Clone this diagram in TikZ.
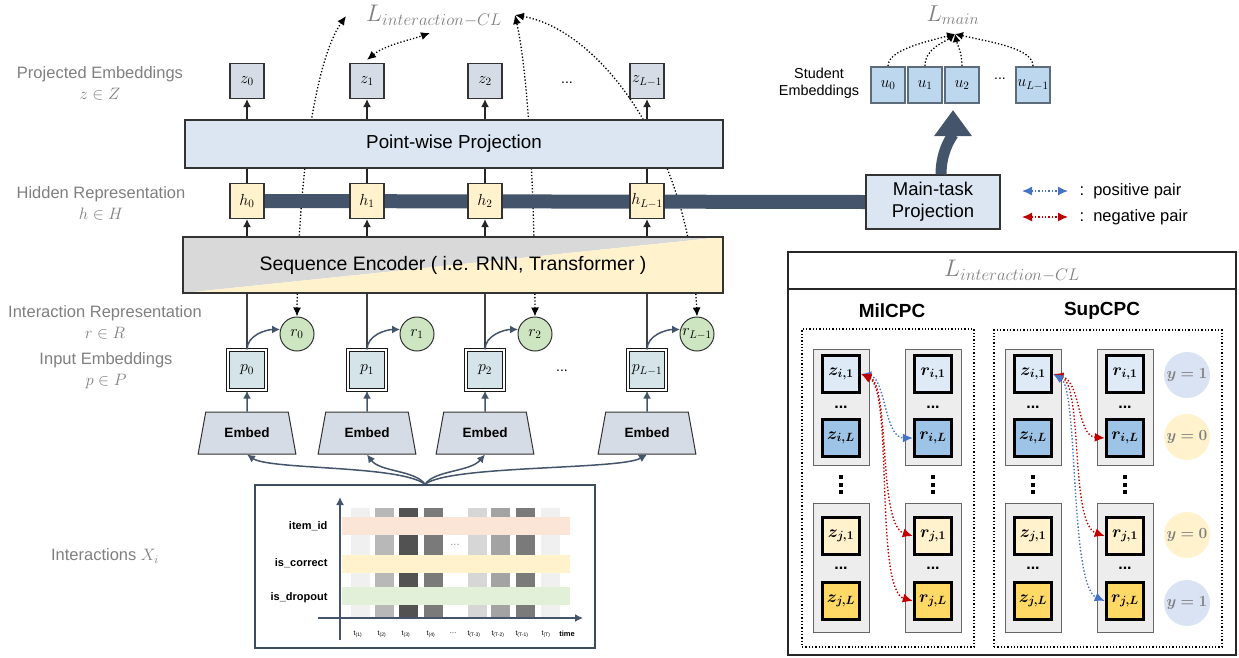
\RequirePackage{fix-cm}
\documentclass[tikz,border=0pt]{standalone}
\usepackage{bm}
\usepackage[no-math]{fontspec}
\setmainfont{Liberation Sans}
\usetikzlibrary{arrows.meta,shapes.geometric,backgrounds,positioning}
\definecolor{slate}{HTML}{44546A}
\definecolor{labgray}{HTML}{7F7F7F}
\definecolor{projfill}{HTML}{DCE6F2}
\definecolor{zfill}{HTML}{D6DCE5}
\definecolor{hfill}{HTML}{FFF2CC}
\definecolor{pfill}{HTML}{D5E4E8}
\definecolor{rfill}{HTML}{CDE5C0}
\definecolor{encgray}{HTML}{D9D9D9}
\definecolor{ufill}{HTML}{BDD7EE}
\definecolor{udraw}{HTML}{5D6B7B}
\definecolor{band1}{HTML}{FBE5D6}
\definecolor{band3}{HTML}{E2F0D9}
\definecolor{panelgray}{HTML}{EDEDED}
\definecolor{ci1}{HTML}{DEEBF7}
\definecolor{ciL}{HTML}{9DC3E6}
\definecolor{cjL}{HTML}{FFD966}
\definecolor{ycirc}{HTML}{DAE3F3}
\definecolor{negred}{HTML}{C00000}
\definecolor{posblue}{HTML}{4472C4}
\tikzset{
  lbl/.style={text=labgray, align=center, font=\fontsize{16.5}{21}\selectfont},
  cellbox/.style={draw=black!80, line width=1.2pt, minimum width=34pt, minimum height=35pt, inner sep=0pt, font=\fontsize{16}{18}\selectfont},
  zbox/.style={cellbox, fill=zfill},
  hbox/.style={cellbox, fill=hfill},
  pbox/.style={draw=black!90, double=white, double distance=1.4pt, line width=1.2pt, fill=pfill, minimum width=38pt, minimum height=40pt, inner sep=0pt, font=\fontsize{16}{18}\selectfont},
  rnode/.style={circle, draw=black!80, line width=1pt, fill=rfill, minimum size=34pt, inner sep=0pt, font=\fontsize{16}{18}\selectfont},
  embed/.style={trapezium, trapezium angle=74, trapezium stretches=true, draw=black!80, line width=1pt, fill=zfill, minimum width=98pt, minimum height=42pt, font=\fontsize{13.5}{16}\selectfont\bfseries},
  bigbox/.style={draw=black!80, line width=1.2pt, fill=projfill, inner sep=0pt},
  blk/.style={->, line width=1.2pt, black!85},
  sarr/.style={-{Latex[length=8pt,width=8pt]}, line width=1.5pt, slate},
  dots/.style={dotted, line width=1.3pt, {Latex[length=9pt,width=8pt]}-{Latex[length=9pt,width=8pt]}},
  ubox/.style={draw=udraw, line width=2pt, fill=ufill, minimum width=34pt, minimum height=36pt, inner sep=0pt, font=\fontsize{16}{18}\selectfont},
  panel/.style={draw=black!60, line width=1pt, fill=panelgray, minimum width=56pt},
  sqbox/.style={draw=black, line width=3.5pt, minimum size=37pt, inner sep=0pt, font=\fontsize{17}{19}\selectfont},
  ycirc/.style={circle, minimum size=46pt, inner sep=0pt, text=labgray, font=\fontsize{15.5}{17}\selectfont},
  pospair/.style={dotted, line width=1.4pt, posblue, {Latex[length=10pt,width=9pt]}-{Latex[length=10pt,width=9pt]}},
  negpair/.style={dotted, line width=1.4pt, negred, {Latex[length=10pt,width=9pt]}-{Latex[length=10pt,width=9pt]}},
  hdots/.style={font=\fontsize{16}{16}\selectfont\bfseries},
  rowlbl/.style={anchor=east, font=\fontsize{11}{13}\selectfont\bfseries},
  tlbl/.style={font=\fontsize{7}{8}\selectfont, inner sep=0pt}
}
\begin{document}
\begin{tikzpicture}[x=1pt, y=-1pt, >={Latex[length=8pt,width=8pt]}]
    \useasboundingbox (0,0) rectangle (1239,657);

    \node[lbl] (lz) at (100,83) {Projected Embeddings\\$z\in Z$};
    \node[lbl] (lh) at (101,203) {Hidden Representation\\$h\in H$};
    \node[lbl] (lr) at (105,322) {Interaction Representation\\$r\in R$};
    \node[lbl] (lp) at (106,371) {Input Embeddings\\$p\in P$};
    \node[lbl] (lx) at (105,556) {Interactions $X_i$};

    \node[bigbox, minimum width=538pt, minimum height=48pt, font=\fontsize{18.8}{22}\selectfont] (proj) at (454,144) {Point-wise Projection};
    \node[bigbox, fill=none, minimum width=540pt, minimum height=56pt, font=\fontsize{19.5}{22}\selectfont,
        path picture={
            \fill[encgray] (path picture bounding box.north west) -- (path picture bounding box.north east) -- (path picture bounding box.south west) -- cycle;
            \fill[hfill] (path picture bounding box.north east) -- (path picture bounding box.south east) -- (path picture bounding box.south west) -- cycle;
        }] (enc) at (453,265) {Sequence Encoder ( i.e. RNN, Transformer )};
    \node[bigbox, minimum width=134pt, minimum height=54pt, align=center, font=\fontsize{18.5}{22}\selectfont] (main) at (933,202) {Main-task\\Projection};

    \foreach \i/\x/\s in {0/247/0,1/367/1,2/485/2,3/647/L-1}{
        \node[zbox] (z\i) at (\x,81) {$z_{\s}$};
        \node[hbox] (h\i) at (\x,201) {$h_{\s}$};
        \node[pbox] (p\i) at (\x,370) {$p_{\s}$};
        \node[rnode] (r\i) at (\x+50,334) {$r_{\s}$};
        \node[embed] (e\i) at (\x,433) {Embed};
        \draw[blk] (proj.north -| z\i) -- (z\i.south);
        \draw[line width=1.2pt, black!85] (h\i.north) -- (proj.south -| h\i);
        \draw[blk] (enc.north -| h\i) -- (h\i.south);
        \draw[line width=1.2pt, black!75] (p\i.north) -- (enc.south -| p\i);
        \draw[sarr] (e\i.north) -- (p\i.south);
        \draw[sarr] (p\i.north) .. controls +(0,-14) and +(-14,0) .. (r\i.165);
    }
    \node[font=\fontsize{14}{16}\selectfont] (zdots) at (567,83) {...};
    \node[font=\fontsize{14}{16}\selectfont] (pdots) at (562,371) {...};

    \node[text=labgray, font=\fontsize{24}{26}\selectfont] (licl) at (434,16) {$L_{interaction-CL}$};
    \coordinate (ticl) at (346,16);
    \coordinate (tmid) at (430,33);
    \coordinate (ticr) at (515,15);

    \begin{scope}[on background layer]
        \draw[dots] (r0.north) .. controls (298,180) and (315,60) .. (ticl);
        \draw[dots] ([yshift=3pt]z1.north) .. controls (385,45) and (410,40) .. (tmid);
        \draw[dots] (r2.north) .. controls (534,150) and (525,60) .. (ticr);
        \draw[dots] (r3.north) .. controls (690,150) and (600,30) .. (ticr);
        \draw[slate, line width=14pt] (h0.center) -- (main.west);
    \end{scope}

    \foreach \i/\x/\s in {0/888/0,1/925/1,2/962/2,3/1033/L-1}{
        \node[ubox] (u\i) at (\x,85) {$u_{\s}$};
    }
    \node[font=\fontsize{14}{16}\selectfont] (udots) at (1000,79) {...};
    \node[align=center, font=\fontsize{14.4}{17}\selectfont] (stud) at (819,83) {Student\\Embeddings};
    \node[text=labgray, font=\fontsize{23}{25}\selectfont] (lmain) at (953,15) {$L_{main}$};
    \coordinate (tmain) at (955,34);
    \draw[dotted, line width=1.3pt, -{Latex[length=8pt,width=8pt]}] (u0.north) .. controls (888,50) and (925,42) .. (tmain);
    \draw[dotted, line width=1.3pt, -{Latex[length=8pt,width=8pt]}] (u1.north) .. controls (925,48) and (945,42) .. (tmain);
    \draw[dotted, line width=1.3pt, -{Latex[length=8pt,width=8pt]}] (u2.north) .. controls (962,52) and (957,44) .. (tmain);
    \draw[dotted, line width=1.3pt, -{Latex[length=8pt,width=8pt]}] (u3.north) .. controls (1033,48) and (990,42) .. (tmain);
    \draw[slate, line width=11pt, -{Triangle[length=26pt,width=36pt]}] ([xshift=8pt]main.north) .. controls +(0,-25) and +(0,25) .. ([xshift=-9pt,yshift=-6pt]u2.south);

    \coordinate (pa) at (1022,191);
    \coordinate (pb) at (1068,191);
    \coordinate (na) at (1022,217);
    \coordinate (nb) at (1068,217);
    \draw[pospair] (pa) -- (pb);
    \draw[negpair] (na) -- (nb);
    \node[anchor=west, font=\fontsize{16.5}{19}\selectfont] (ptxt) at (1076,191) {:\ \ positive pair};
    \node[anchor=west, font=\fontsize{16.5}{19}\selectfont] (ntxt) at (1076,217) {:\ \ negative pair};

    \node[draw=slate!90!black, line width=1.5pt, minimum width=340pt, minimum height=163pt] (xbox) at (425,566.5) {};
    \foreach \cx/\cc [count=\k] in {360/black!6,384/black!28,408/black!68,433/black!52,477/black!16,500/black!36,525/black!52,550/black!6}{
        \fill[\cc] (\cx-9.5,508) rectangle (\cx+9.5,617);
    }
    \fill[band1] (342,517) rectangle (570,535);
    \fill[hfill] (342,555) rectangle (570,573);
    \fill[band3] (342,587) rectangle (570,605);
    \node[text=black!45, font=\fontsize{11}{13}\selectfont] (mdots) at (455,545) {...};
    \coordinate (ya) at (340,640);
    \coordinate (yb) at (340,497);
    \coordinate (xa) at (318,618);
    \coordinate (xb) at (583,618);
    \draw[sarr] (ya) -- (yb);
    \draw[sarr] (xa) -- (xb);
    \node[rowlbl] (litem) at (331,526) {item\_id};
    \node[rowlbl] (lcorr) at (331,563) {is\_correct};
    \node[rowlbl] (ldrop) at (331,598) {is\_dropout};
    \foreach \tx/\tl [count=\k] in {358/(1),382/(2),406/(3),431/(4),474/(T-3),498/(T-2),522/(T-1),546/(T)}{
        \node[tlbl] (t\k) at (\tx,634) {t\textsubscript{\tl}};
    }
    \node[tlbl] (tdots) at (453,633) {\dots};
    \node[tlbl, font=\fontsize{7.5}{8}\selectfont\bfseries] (ttime) at (567,634) {time};
    \draw[sarr] (xbox.north) .. controls (400,465) and (270,470) .. (e0.south);
    \draw[sarr] (xbox.north) .. controls (415,470) and (380,472) .. (e1.south);
    \draw[sarr] (xbox.north) .. controls (435,470) and (470,472) .. (e2.south);
    \draw[sarr] (xbox.north) .. controls (450,465) and (620,470) .. (e3.south);

    \node[draw=black!85, line width=1.5pt, minimum width=448pt, minimum height=403pt] (clbox) at (1012,453.5) {};
    \draw[black!85, line width=1.5pt] (clbox.west |- 0,289) -- (clbox.east |- 0,289);
    \node[text=labgray, font=\fontsize{24}{26}\selectfont] (cltitle) at (1012,271) {$L_{interaction-CL}$};
    \node[font=\fontsize{19}{22}\selectfont\bfseries] (lmil) at (892,311) {MilCPC};
    \node[font=\fontsize{19}{22}\selectfont\bfseries] (lsup) at (1102,311) {SupCPC};
    \node[draw, dotted, line width=1.3pt, minimum width=172pt, minimum height=318pt] (milbox) at (888,488) {};
    \node[draw, dotted, line width=1.3pt, minimum width=228pt, minimum height=317pt] (supbox) at (1108,488.5) {};

    \foreach \g/\zx/\rx in {m/841/933,s/1033/1125}{
        \node[panel, minimum height=116pt] (\g-pzi) at (\zx,407) {};
        \node[panel, minimum height=116pt] (\g-pri) at (\rx,407) {};
        \node[panel, minimum height=129pt] (\g-pzj) at (\zx,568) {};
        \node[panel, minimum height=129pt] (\g-prj) at (\rx,568) {};
        \node[sqbox, fill=ci1] (\g-zi1) at (\zx,374) {$\bm{z_{i,1}}$};
        \node[sqbox, fill=ciL] (\g-ziL) at (\zx,438) {$\bm{z_{i,L}}$};
        \node[sqbox, fill=hfill] (\g-zj1) at (\zx,536) {$\bm{z_{j,1}}$};
        \node[sqbox, fill=cjL] (\g-zjL) at (\zx,601) {$\bm{z_{j,L}}$};
        \node[sqbox, fill=ci1] (\g-ri1) at (\rx,374) {$\bm{r_{i,1}}$};
        \node[sqbox, fill=ciL] (\g-riL) at (\rx,438) {$\bm{r_{i,L}}$};
        \node[sqbox, fill=hfill] (\g-rj1) at (\rx,536) {$\bm{r_{j,1}}$};
        \node[sqbox, fill=cjL] (\g-rjL) at (\rx,601) {$\bm{r_{j,L}}$};
        \node[hdots] (\g-dzi) at (\zx,407) {...};
        \node[hdots] (\g-dri) at (\rx,407) {...};
        \node[hdots] (\g-dzj) at (\zx,568) {...};
        \node[hdots] (\g-drj) at (\rx,568) {...};
        \foreach \dy in {477,484.5,492}{
            \fill (\zx-2,\dy-2) rectangle (\zx+2,\dy+2);
            \fill (\rx-2,\dy-2) rectangle (\rx+2,\dy+2);
        }
    }
    \node[ycirc, fill=ycirc] (y1) at (1187,375) {$\bm{y=1}$};
    \node[ycirc, fill=hfill] (y2) at (1187,437) {$\bm{y=0}$};
    \node[ycirc, fill=hfill] (y3) at (1187,535) {$\bm{y=0}$};
    \node[ycirc, fill=ycirc] (y4) at (1187,603) {$\bm{y=1}$};

    \draw[pospair] (m-zi1.east) .. controls +(24,4) and +(-28,0) .. (m-riL.west);
    \draw[negpair] (m-zi1.east) .. controls +(29,11) and +(-35,-11) .. (m-rj1.west);
    \draw[negpair] (m-zi1.east) .. controls +(32,16) and +(-38,-11) .. (m-rjL.west);
    \draw[negpair] (s-zi1.east) .. controls +(28,8) and +(-28,-2) .. (s-riL.west);
    \draw[negpair] (s-zi1.east) .. controls +(30,12) and +(-35,-12) .. (s-rj1.west);
    \draw[pospair] (s-zi1.east) .. controls +(25,15) and +(-35,-15) .. (s-rjL.west);
\end{tikzpicture}
\end{document}
